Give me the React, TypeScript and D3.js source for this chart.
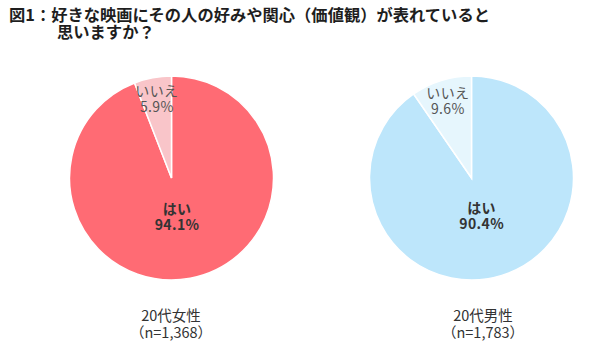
import React, { useEffect, useRef } from "react";
import * as d3 from "d3";

const answers = ["はい", "いいえ"];
const womenValues = [94.1, 5.9];
const menValues = [90.4, 9.6];
const groupNames = ["20代女性", "20代男性"];
const groupCounts = ["（n=1,368）", "（n=1,783）"];
const titleLines = [
  "図1：好きな映画にその人の好みや関心（価値観）が表れていると",
  "思いますか？",
];

const pies = [
  { values: womenValues, colors: ["#ff6b74", "#f9c5c9"], cx: 171.5, labelX: 171 },
  { values: menValues, colors: ["#bde6fb", "#e6f6fd"], cx: 471.5, labelX: 483 },
];

const App = () => {
  const ref = useRef<SVGSVGElement | null>(null);

  useEffect(() => {
    const svg = d3.select(ref.current);
    svg.selectAll("*").remove();

    const font = "'Noto Sans CJK JP', 'Noto Sans', sans-serif";
    const radius = 102;
    const cy = 178;

    svg
      .append("rect")
      .attr("width", 600)
      .attr("height", 354)
      .attr("fill", "#ffffff");

    // title, two lines
    titleLines.forEach((line, i) => {
      svg
        .append("text")
        .attr("x", i === 0 ? 9 : 57)
        .attr("y", i === 0 ? 21 : 38)
        .style("font-family", font)
        .style("font-weight", 700)
        .style("font-size", "16.3px")
        .attr("fill", "#1e1e1e")
        .text(line);
    });

    const pie = d3.pie<number>().sort(null).value((d) => d);
    const arc = d3.arc<d3.PieArcDatum<number>>().innerRadius(0).outerRadius(radius);

    pies.forEach((p, gi) => {
      const g = svg.append("g").attr("transform", `translate(${p.cx},${cy})`);
      const arcs = pie(p.values);

      g.selectAll("path")
        .data(arcs)
        .enter()
        .append("path")
        .attr("d", arc)
        .attr("fill", (d, i) => p.colors[i])
        .attr("stroke", "#ffffff")
        .attr("stroke-width", 1.5);

      arcs.forEach((d, i) => {
        const lr = i === 0 ? radius * 0.4 : radius * 0.78;
        const mid = (d.startAngle + d.endAngle) / 2;
        const x = Math.sin(mid) * lr - (i === 0 ? 2 : 0);
        const y = -Math.cos(mid) * lr;
        const t = g
          .append("text")
          .attr("text-anchor", "middle")
          .style("font-family", font)
          .style("font-size", "14px")
          .style("letter-spacing", "0.4px")
          .attr("fill", i === 0 ? "#333333" : "#555555")
          .style("font-weight", i === 0 ? 700 : 400);
        t.append("tspan").attr("x", x).attr("y", y - 4).text(answers[i]);
        t.append("tspan")
          .attr("x", x)
          .attr("y", y + 12)
          .text(d3.format(".1f")(d.data) + "%");
      });

      [groupNames[gi], groupCounts[gi]].forEach((s, k) => {
        svg
          .append("text")
          .attr("x", p.labelX)
          .attr("y", k === 0 ? 321 : 338)
          .attr("text-anchor", "middle")
          .style("font-family", font)
          .style("font-size", "14.5px")
          .attr("fill", "#333333")
          .text(s);
      });
    });
  }, []);

  return (
    <svg
      ref={ref}
      width={600}
      height={354}
      style={{ position: "absolute", left: 0, top: 0, display: "block" }}
    />
  );
};

export default App;
